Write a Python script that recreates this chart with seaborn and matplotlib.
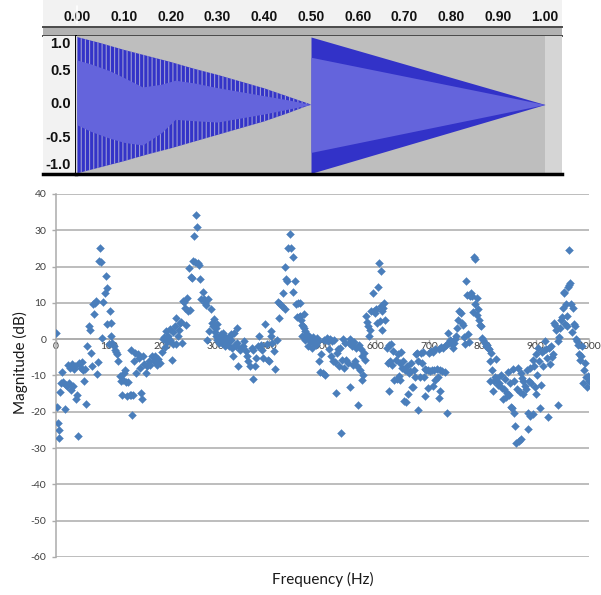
import numpy as np
import pandas as pd
import matplotlib
matplotlib.use("Agg")
import matplotlib.pyplot as plt
from matplotlib.ticker import MultipleLocator
import seaborn as sns

sns.set_style("white")
plt.rcParams['font.family'] = ['Lato', 'DejaVu Sans']
plt.rcParams['hatch.linewidth'] = 0.8
plt.rcParams['axes.unicode_minus'] = False

# ---------------- waveform screenshot data ----------------
ruler_ticks = [0.0, 0.1, 0.2, 0.3, 0.4, 0.5, 0.6, 0.7, 0.8, 0.9, 1.0]
ruler_labels = ['0.00', '0.10', '0.20', '0.30', '0.40', '0.50', '0.60', '0.70', '0.80', '0.90', '1.00']
amp_ticks = [1.0, 0.5, 0.0, -0.5, -1.0]
amp_labels = ['1.0', '0.5', '0.0', '-0.5', '-1.0']
cursor_t = 0.0
track_end = 1.0

clip1_t = [0.0, 0.05, 0.10, 0.15, 0.20, 0.25, 0.30, 0.35, 0.40, 0.45, 0.50]
clip1_peak_hi = [1.0, 0.91, 0.81, 0.72, 0.63, 0.53, 0.44, 0.34, 0.24, 0.12, 0.0]
clip1_peak_lo = [-1.02, -0.93, -0.84, -0.74, -0.65, -0.55, -0.45, -0.35, -0.25, -0.13, 0.0]
clip1_rms_t = [0.0, 0.03, 0.07, 0.10, 0.14, 0.18, 0.21, 0.25, 0.30, 0.35, 0.40, 0.45, 0.50]
clip1_rms_hi = [0.66, 0.60, 0.50, 0.40, 0.26, 0.30, 0.36, 0.32, 0.25, 0.19, 0.13, 0.07, 0.0]
clip1_rms_lo = [-0.30, -0.40, -0.50, -0.56, -0.60, -0.42, -0.22, -0.24, -0.26, -0.20, -0.14, -0.07, 0.0]

clip2_t = [0.5, 1.0]
clip2_peak_hi = [1.0, 0.0]
clip2_peak_lo = [-1.02, 0.0]
clip2_rms_hi = [0.70, 0.0]
clip2_rms_lo = [-0.71, 0.0]

# ---------------- spectrum data (Hz, dB) ----------------
freq_a = [0, 2, 3, 5, 6, 8, 10, 12, 14, 16,
          18, 20, 22, 24, 26, 28, 30, 32, 34, 36,
          38, 40, 42, 44, 46, 48, 50, 52, 54, 56,
          59, 61, 63, 65, 67, 69, 71, 73, 75, 77,
          79, 81, 83, 85, 86, 88, 91, 93, 95, 96,
          99, 101, 103, 104, 106, 108, 110, 112, 114, 117,
          120, 122, 124, 126, 128, 130, 132, 134, 136, 138,
          140, 141, 143, 145, 147, 149, 151, 153, 155, 158,
          160, 162, 164, 166, 168, 171, 174, 177, 180, 183,
          186, 189, 192, 195, 198, 201, 203, 204, 207, 209,
          211, 213, 214, 217, 219, 220, 223, 225, 226, 228,
          230, 232, 234, 236, 238, 241, 242, 244, 245, 247]
mag_a = [1.7, -18.7, -23.0, -27.2, -25.1, -14.5, -12.0, -9.1, -11.8, -19.2,
         -12.5, -13.0, -7.0, -12.2, -8.0, -13.9, -6.7, -13.0, -8.1, -7.5,
         -16.6, -15.4, -26.8, -6.5, -7.8, -6.2, -8.4, -11.5, -8.1, -17.8,
         -1.9, 3.6, 2.5, -3.8, -7.5, 9.6, 6.9, 10.0, 10.5, -9.5,
         -6.4, 21.6, 25.1, 21.4, 0.4, 10.2, 12.8, 17.4, 14.2, 4.2,
         -1.2, 7.7, 4.5, 0.8, -1.0, -1.9, -2.9, -3.5, -4.2, -5.9,
         -10.2, -11.5, -15.4, -11.2, -9.3, -8.4, -11.9, -15.6, -11.8, -15.4,
         -3.1, -15.3, -20.9, -15.4, -6.1, -3.8, -9.3, -4.2, -5.3, -7.9,
         -14.8, -16.6, -4.7, -6.7, -9.3, -7.5, -6.1, -7.0, -4.5, -6.1,
         -4.7, -7.0, -5.5, -6.5, -3.5, 0.1, 0.5, -2.1, 2.2, -0.8,
         1.0, -0.2, 2.7, -5.6, 2.1, -1.2, 3.6, -1.2, 5.9, 0.8,
         2.5, 4.5, 4.8, -1.0, 10.5, 10.2, 8.7, 3.8, 11.4, 7.7]

freq_b = [250, 252, 253, 256, 257, 259, 261, 262, 264, 266,
          268, 270, 272, 276, 277, 279, 281, 284, 286, 287,
          290, 293, 295, 297, 298, 300, 301, 302, 303, 304,
          306, 307, 309, 311, 312, 313, 315, 317, 318, 320,
          322, 323, 325, 326, 328, 329, 331, 332, 334, 336,
          338, 339, 340, 342, 345, 348, 351, 353, 356, 358,
          361, 364, 367, 369, 370, 373, 376, 379, 381, 384,
          386, 389, 392, 395, 398, 400, 403, 404, 406, 409,
          411, 414, 416, 418, 421, 424, 426, 429, 430, 431,
          434, 436, 439, 441, 444, 445, 448, 450, 452, 454,
          455, 457, 458, 460, 461, 462, 464, 465, 466, 467,
          468, 469, 470, 472, 474, 476, 478, 480, 481, 483,
          485, 487, 489, 491, 494, 496, 498]
mag_b = [19.7, 8.0, 17.2, 16.9, 21.6, 28.5, 21.3, 34.2, 31.0, 21.1,
         20.4, 16.7, 11.0, 13.0, 11.0, 10.0, 9.3, -0.3, 11.0, 2.2,
         8.2, 4.5, 3.6, 5.6, 2.0, 3.1, 0.8, 4.1, -0.3, 0.4,
         -1.0, 0.5, 1.5, 0.1, -1.0, 1.8, 0.8, -1.8, -0.6, -1.0,
         -0.8, 0.4, -2.0, 0.8, 1.4, -0.1, -2.5, -4.7, 1.6, -1.7,
         -2.0, 3.1, -1.0, -7.5, -2.9, -2.4, -1.8, -0.6, -3.3, -4.7,
         -6.1, -7.5, -2.4, -2.9, -10.9, -7.5, -5.2, -1.9, 1.0, -1.5,
         -2.9, -5.2, 4.1, -1.3, -5.6, -6.1, 0.8, 2.2, -1.0, -3.3,
         -8.2, -0.1, 10.2, 5.9, 9.6, 9.1, 12.8, 8.4, 20.0, 16.5,
         16.0, 25.0, 29.1, 25.0, 22.7, 13.0, 16.0, 9.6, 6.0, 9.9,
         6.0, 9.9, 6.4, 5.4, 0.8, 4.0, 3.6, 7.0, 3.1, -0.1,
         2.2, 0.4, 1.3, -2.0, 0.2, -0.6, 0.3, -0.8, -2.4, 0.5,
         -0.2, -1.5, 0.2, -0.5, -6.1, -9.1, -4.2]

freq_c = [500, 502, 504, 506, 508, 510, 512, 514, 516, 518,
          520, 522, 524, 525, 527, 529, 531, 533, 535, 537,
          539, 541, 543, 545, 547, 549, 551, 552, 555, 557,
          559, 561, 563, 565, 566, 568, 570, 572, 574, 575,
          576, 578, 580, 582, 584, 586, 587, 589, 591, 594,
          596, 598, 600, 602, 604, 606, 607, 609, 610, 611,
          612, 614, 616, 618, 621, 623, 624, 625, 627, 629,
          631, 633, 635, 637, 639, 641, 643, 645, 646, 648,
          650, 651, 653, 655, 657, 659, 660, 662, 664, 666,
          667, 669, 671, 673, 675, 677, 679, 680, 682, 684,
          686, 688, 690, 692, 693, 695, 697, 698, 699, 701,
          703, 705, 707, 708, 710, 711, 712, 714, 716, 718,
          719, 720, 721, 723, 725, 727, 729, 731, 733, 734,
          735, 737, 739, 741, 743, 745, 747, 749]
mag_c = [-9.2, -0.1, -9.8, -0.2, 0.3, -0.5, -2.8, 0.1, -4.6, -0.5,
         -6.0, -0.3, -6.4, -14.7, -3.8, -2.8, -7.5, -2.4, -25.8, -5.6,
         0.1, -7.8, -1.0, -5.6, -6.5, -1.0, -13.1, 0.0, -1.9, -7.0,
         -0.9, -6.0, -2.4, -7.5, -18.2, -1.5, -8.5, -2.8, -4.7, -11.3,
         -9.8, -3.8, -5.7, 6.4, 4.7, 3.6, 0.8, 2.5, 7.7, 12.8,
         7.7, 7.3, 8.2, 4.5, 14.5, 21.1, 5.0, 18.8, 9.1, 7.7,
         2.5, 8.7, 10.0, 5.4, -2.4, -6.5, -1.5, -14.4, -6.0, -1.2,
         -7.0, -3.2, -11.3, -5.6, -11.0, -4.0, -10.2, -6.6, -11.3, -3.5,
         -8.0, -6.0, -17.0, -8.5, -17.3, -7.5, -15.2, -9.2, -8.8, -6.5,
         -13.2, -13.1, -8.5, -10.5, -4.2, -3.8, -6.0, -19.6, -10.5, -3.8,
         -6.5, -3.5, -10.3, -8.3, -15.6, -8.5, -8.4, -13.5, -3.8, -8.7,
         -3.3, -8.6, -12.9, -3.4, -8.5, -11.3, -2.8, -8.2, -10.3, -16.3,
         -2.8, -14.2, -8.5, -2.2, -8.8, -2.5, -8.9, -1.6, -1.2, -20.3,
         1.7, -1.0, -0.2, -0.6, -1.4, -2.4, -1.0, 0.1]

freq_d = [751, 753, 755, 757, 759, 761, 763, 765, 768, 769,
          771, 773, 774, 776, 778, 780, 782, 784, 786, 787,
          789, 790, 792, 794, 795, 798, 800, 802, 804, 806,
          808, 810, 812, 814, 815, 817, 818, 820, 822, 824,
          826, 828, 830, 832, 834, 836, 838, 840, 842, 844,
          846, 848, 850, 852, 853, 855, 857, 859, 860, 862,
          863, 864, 866, 868, 870, 872, 873, 875, 876, 877,
          879, 881, 883, 885, 886, 887, 889, 890, 892, 894,
          895, 897, 899, 900, 901, 903, 905, 907, 908, 910,
          912, 914, 916, 918, 920, 922, 924, 925, 927, 929,
          931, 933, 935, 937, 939, 941, 942, 944, 946, 948,
          950, 951, 953, 954, 955, 957, 958, 959, 961, 962,
          963, 965, 967, 969, 970, 972, 974, 975, 977, 979,
          981, 983, 985, 987, 988, 990, 992, 994, 996, 998, 1000]
mag_d = [0.9, 3.1, 5.4, 7.8, 7.3, 4.5, 4.0, 0.5, -1.2, 16.0,
         12.3, 1.5, -0.8, 11.9, 12.8, 11.9, 7.5, 22.7, 22.0, 9.6,
         6.8, 11.4, 8.2, 5.4, 4.0, 3.6, 0.3, -0.3, -1.0, -2.0,
         -1.5, -2.4, -2.8, -6.0, -11.5, -3.8, -8.5, -14.2, -11.5, -10.5,
         -5.5, -10.8, -12.5, -12.0, -10.0, -13.5, -16.5, -13.8, -11.0, -16.0,
         -14.8, -9.0, -15.5, -12.2, -18.6, -18.9, -8.2, -20.3, -11.5, -24.0,
         -28.6, -13.6, -8.0, -28.1, -14.5, -9.2, -27.5, -10.8, -11.5, -15.2,
         -12.9, -13.6, -8.5, -20.3, -24.7, -11.5, -8.0, -21.2, -12.0, -5.8,
         -20.7, -7.5, -13.1, -4.2, -15.2, -10.0, -2.5, -6.0, -18.9, -12.6,
         -3.5, -7.5, -3.0, -0.5, -2.8, -5.2, -21.5, -2.3, -6.8, -2.0,
         -5.0, -4.0, 4.5, 4.0, 2.5, -0.5, -18.0, 0.5, 3.2, 5.4,
         6.0, 8.6, 12.6, 13.0, 4.2, 9.6, 6.5, 3.5, 14.5, 24.6,
         15.0, 15.4, 9.6, 2.0, 8.5, 4.3, 3.7, 0.1, -0.5, -1.5,
         -4.0, -5.8, -4.5, -2.0, -12.0, -8.4, -6.5, -10.5, -13.1, -10.2, -11.5]

y_ticks = [-60, -50, -40, -30, -20, -10, 0, 10, 20, 30, 40]
x_ticks = [0, 100, 200, 300, 400, 500, 600, 700, 800, 900, 1000]

spec = pd.DataFrame({
    'freq': freq_a + freq_b + freq_c + freq_d,
    'mag': mag_a + mag_b + mag_c + mag_d,
})

# ---------------- layout helpers ----------------
W, H = 601, 595
fig = plt.figure(figsize=(W / 100, H / 100), dpi=100)
fig.patch.set_facecolor('white')


def px_axes(l, t, r, b, **kw):
    return fig.add_axes([l / W, 1 - b / H, (r - l) / W, (b - t) / H], **kw)


def t_at(px):
    return (px - 77) / 468.0


def v_at(py):
    return (104.5 - py) / 67.5


def bare(ax):
    ax.set_xticks([])
    ax.set_yticks([])
    for s in ax.spines.values():
        s.set_visible(False)


# ruler
ax_r = px_axes(43, 0, 562, 27)
bare(ax_r)
ax_r.set_facecolor('#F2F2F2')
ax_r.set_xlim(t_at(43), t_at(562))
ax_r.set_ylim(0, 1)
ax_r.set_xticks(ruler_ticks, ruler_labels, fontsize=10, fontweight='bold',
                family='Liberation Sans', color='#111111')
ax_r.xaxis.set_minor_locator(MultipleLocator(0.05))
ax_r.tick_params(axis='x', which='major', direction='in', length=3, width=1,
                 color='#333333', pad=-12.5)
ax_r.tick_params(axis='x', which='minor', direction='in', length=1.5, width=1,
                 color='#333333')
ax_r.axvline(cursor_t, ymin=0.15, ymax=0.78, color='white', lw=1.2)

# separator band
ax_b = px_axes(43, 27, 562, 36)
bare(ax_b)
ax_b.set_facecolor('#B2B2B2')
for side in ['top', 'bottom']:
    ax_b.spines[side].set_visible(True)
    ax_b.spines[side].set_color('#4A4A4A')
    ax_b.spines[side].set_linewidth(1.4)

ylo, yhi = v_at(174), v_at(36)

# amplitude label panel (minus signs get clipped like in the screenshot)
ax_l = px_axes(43, 36, 76, 174)
bare(ax_l)
ax_l.set_facecolor('#F2F2F2')
ax_l.set_xlim(0, 1)
ax_l.set_ylim(ylo, yhi)
for v, lab in zip(amp_ticks, amp_labels):
    va = 'top' if v == max(amp_ticks) else ('bottom' if v == min(amp_ticks) else 'center')
    ax_l.text(0.84, v, lab, ha='right', va=va, fontsize=10.5, fontweight='bold',
              family='Liberation Sans', color='#111111', clip_on=True)
ax_l.spines['bottom'].set_visible(True)
ax_l.spines['bottom'].set_color('black')
ax_l.spines['bottom'].set_linewidth(2.5)
ax_l.spines['right'].set_visible(True)
ax_l.spines['right'].set_color('black')
ax_l.spines['right'].set_linewidth(1.4)

# waveform track
ax_t = px_axes(76, 36, 562, 174)
bare(ax_t)
ax_t.set_facecolor('#D5D5D5')
ax_t.set_xlim(t_at(76), t_at(562))
ax_t.set_ylim(ylo, yhi)
ax_t.axvspan(clip1_t[0], track_end, color='#BEBEBE', lw=0)
ax_t.fill_between(clip1_t, clip1_peak_lo, clip1_peak_hi, facecolor='#3434C8',
                  edgecolor='#9C9CD4', hatch='||||', lw=0)
ax_t.fill_between(clip1_rms_t, clip1_rms_lo, clip1_rms_hi, color='#6464DC', lw=0)
ax_t.fill_between(clip2_t, clip2_peak_lo, clip2_peak_hi, color='#3232C8', lw=0)
ax_t.fill_between(clip2_t, clip2_rms_lo, clip2_rms_hi, color='#6464DC', lw=0)
ax_t.spines['bottom'].set_visible(True)
ax_t.spines['bottom'].set_color('black')
ax_t.spines['bottom'].set_linewidth(2.5)

# ---------------- spectrum scatter ----------------
ax = px_axes(56, 194, 589, 557)
sns.scatterplot(data=spec, x='freq', y='mag', ax=ax, marker='D', s=16,
                color='#4A7EBB', edgecolor='#4A7EBB', linewidth=0.3, zorder=3)
ax.set_xlim(0, 1000)
ax.set_ylim(-60, 40)
ax.set_xticks(x_ticks)
ax.set_yticks(y_ticks)
ax.grid(axis='y', color='#ABABAB', lw=1.1)
ax.grid(axis='x', visible=False)
ax.set_axisbelow(True)
for side in ['top', 'right']:
    ax.spines[side].set_visible(False)
ax.spines['left'].set_color('#ABABAB')
ax.spines['left'].set_linewidth(1.1)
ax.spines['bottom'].set_position(('data', 0))
ax.spines['bottom'].set_color('#ABABAB')
ax.spines['bottom'].set_linewidth(1.1)
ax.tick_params(axis='x', direction='out', length=3.5, width=1, color='#ABABAB',
               pad=-1.5, labelsize=7.5, labelcolor='#404040')
ax.tick_params(axis='y', direction='out', length=3, width=1, color='#ABABAB',
               pad=4, labelsize=7.5, labelcolor='#404040')
ax.tick_params(axis='both', bottom=True, left=True)
ax.set_xlabel('Frequency (Hz)', fontsize=11, color='#1A1A1A', va='center')
ax.set_ylabel('Magnitude (dB)', fontsize=11, color='#1A1A1A', va='center')
ax.xaxis.set_label_coords(0.5, -0.063)
ax.yaxis.set_label_coords(-0.0675, 0.537)

fig.savefig('out.png', dpi=100)
